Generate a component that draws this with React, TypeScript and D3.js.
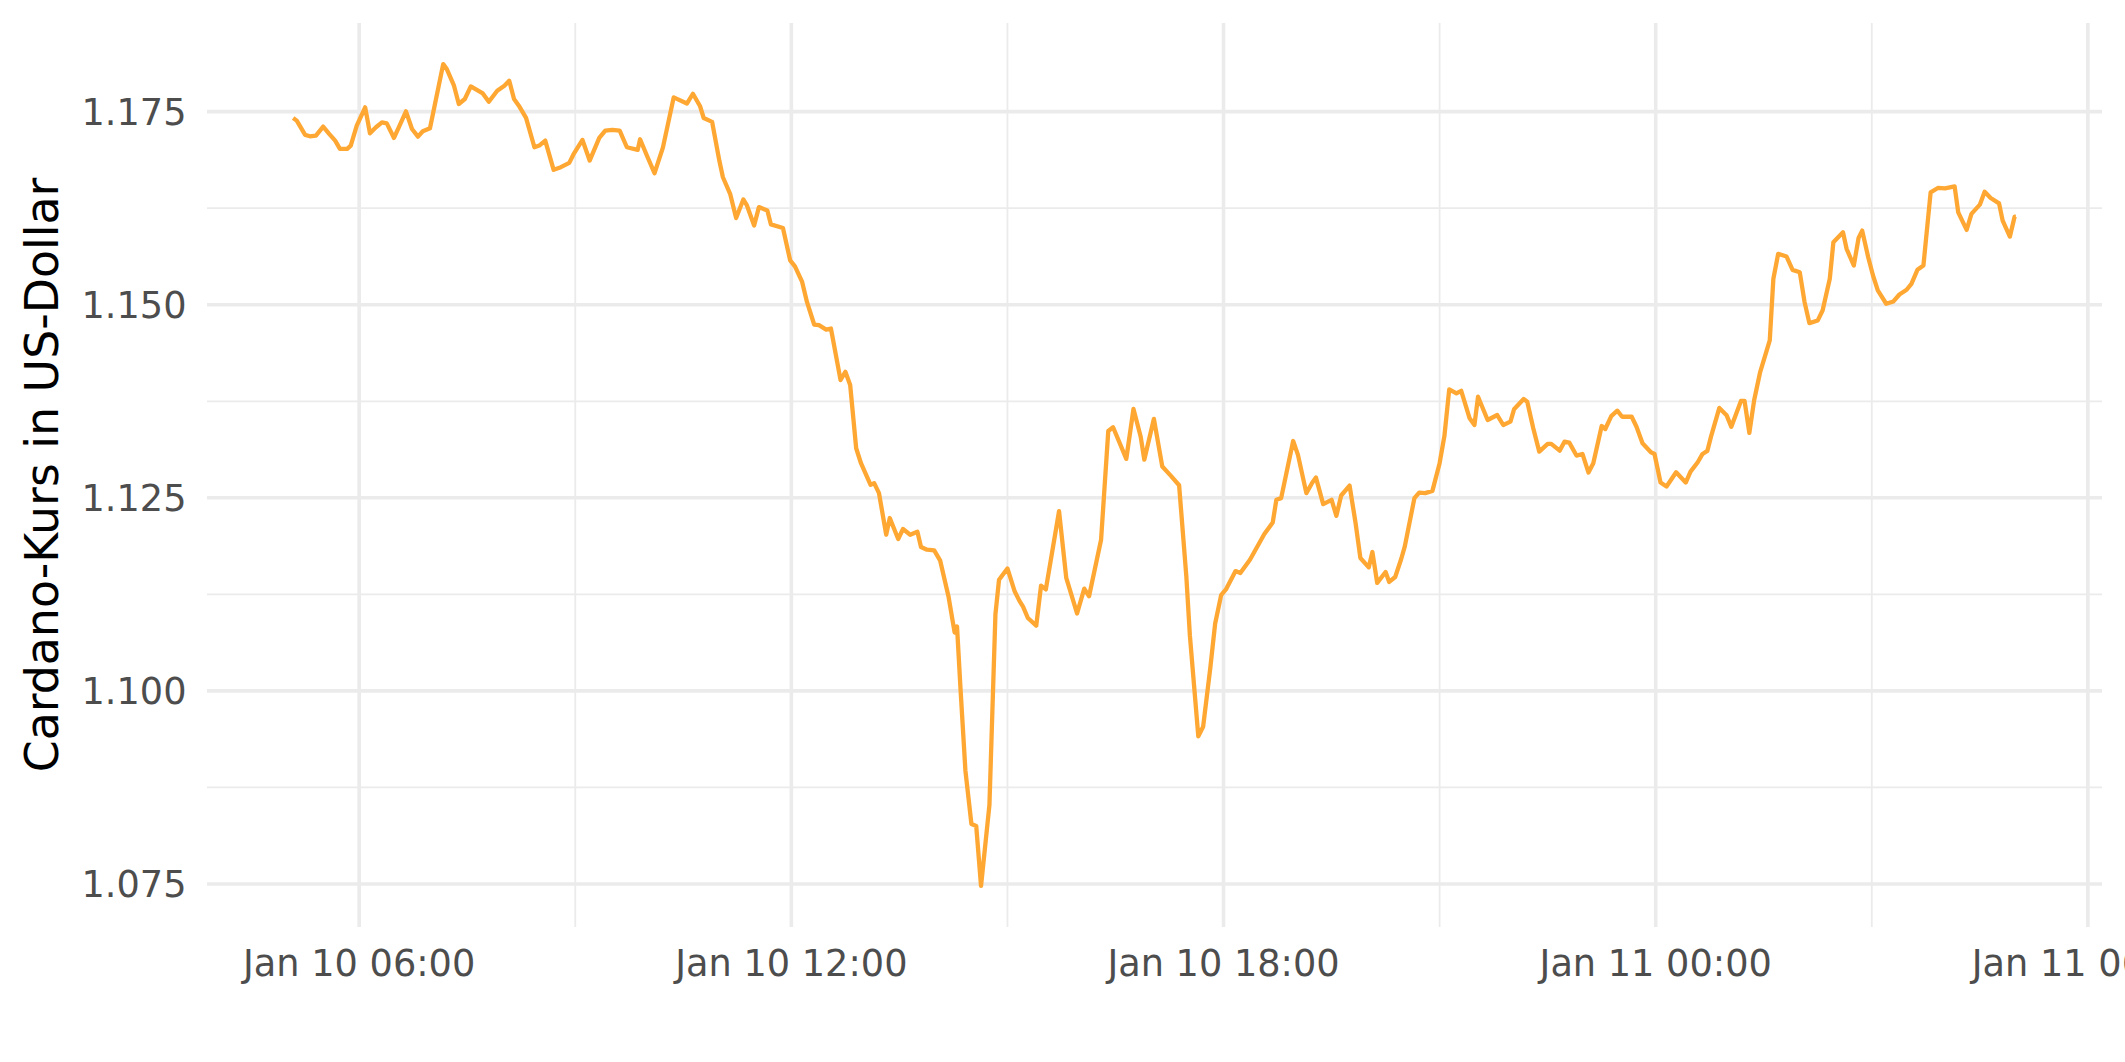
import React from "react";
import * as d3 from "d3";

// ---- Data ----
const times: string[] = [
  "2022-01-10T05:05","2022-01-10T05:08","2022-01-10T05:15","2022-01-10T05:19","2022-01-10T05:24","2022-01-10T05:30","2022-01-10T05:35","2022-01-10T05:40","2022-01-10T05:44","2022-01-10T05:50",
  "2022-01-10T05:53","2022-01-10T05:58","2022-01-10T06:05","2022-01-10T06:09","2022-01-10T06:14","2022-01-10T06:19","2022-01-10T06:23","2022-01-10T06:29","2022-01-10T06:33","2022-01-10T06:39",
  "2022-01-10T06:44","2022-01-10T06:49","2022-01-10T06:53","2022-01-10T06:59","2022-01-10T07:10","2022-01-10T07:13","2022-01-10T07:19","2022-01-10T07:23","2022-01-10T07:28","2022-01-10T07:33",
  "2022-01-10T07:43","2022-01-10T07:48","2022-01-10T07:55","2022-01-10T08:01","2022-01-10T08:05","2022-01-10T08:09","2022-01-10T08:13","2022-01-10T08:19","2022-01-10T08:26","2022-01-10T08:30",
  "2022-01-10T08:35","2022-01-10T08:42","2022-01-10T08:48","2022-01-10T08:55","2022-01-10T08:59","2022-01-10T09:06","2022-01-10T09:12","2022-01-10T09:20","2022-01-10T09:25","2022-01-10T09:31",
  "2022-01-10T09:37","2022-01-10T09:43","2022-01-10T09:52","2022-01-10T09:54","2022-01-10T10:00","2022-01-10T10:06","2022-01-10T10:13","2022-01-10T10:22","2022-01-10T10:33","2022-01-10T10:38",
  "2022-01-10T10:44","2022-01-10T10:47","2022-01-10T10:54","2022-01-10T11:00","2022-01-10T11:03","2022-01-10T11:09","2022-01-10T11:14","2022-01-10T11:20","2022-01-10T11:23","2022-01-10T11:29",
  "2022-01-10T11:33","2022-01-10T11:40","2022-01-10T11:43","2022-01-10T11:53","2022-01-10T11:59","2022-01-10T12:03","2022-01-10T12:09","2022-01-10T12:13","2022-01-10T12:19","2022-01-10T12:23",
  "2022-01-10T12:29","2022-01-10T12:33","2022-01-10T12:41","2022-01-10T12:45","2022-01-10T12:49","2022-01-10T12:54","2022-01-10T12:58","2022-01-10T13:06","2022-01-10T13:09","2022-01-10T13:13",
  "2022-01-10T13:19","2022-01-10T13:22","2022-01-10T13:29","2022-01-10T13:33","2022-01-10T13:39","2022-01-10T13:45","2022-01-10T13:48","2022-01-10T13:53","2022-01-10T13:59","2022-01-10T14:04",
  "2022-01-10T14:11","2022-01-10T14:16","2022-01-10T14:18","2022-01-10T14:21","2022-01-10T14:25","2022-01-10T14:30","2022-01-10T14:34","2022-01-10T14:38","2022-01-10T14:45","2022-01-10T14:50",
  "2022-01-10T14:53","2022-01-10T15:00","2022-01-10T15:06","2022-01-10T15:10","2022-01-10T15:13","2022-01-10T15:17","2022-01-10T15:24","2022-01-10T15:28","2022-01-10T15:32","2022-01-10T15:43",
  "2022-01-10T15:49","2022-01-10T15:58","2022-01-10T16:04","2022-01-10T16:08","2022-01-10T16:18","2022-01-10T16:24","2022-01-10T16:28","2022-01-10T16:39","2022-01-10T16:45","2022-01-10T16:51",
  "2022-01-10T16:54","2022-01-10T17:02","2022-01-10T17:09","2022-01-10T17:16","2022-01-10T17:23","2022-01-10T17:29","2022-01-10T17:32","2022-01-10T17:39","2022-01-10T17:43","2022-01-10T17:49",
  "2022-01-10T17:53","2022-01-10T17:58","2022-01-10T18:02","2022-01-10T18:10","2022-01-10T18:14","2022-01-10T18:22","2022-01-10T18:29","2022-01-10T18:34","2022-01-10T18:41","2022-01-10T18:44",
  "2022-01-10T18:48","2022-01-10T18:58","2022-01-10T19:02","2022-01-10T19:09","2022-01-10T19:14","2022-01-10T19:17","2022-01-10T19:23","2022-01-10T19:30","2022-01-10T19:34","2022-01-10T19:38",
  "2022-01-10T19:45","2022-01-10T19:50","2022-01-10T19:54","2022-01-10T20:01","2022-01-10T20:04","2022-01-10T20:08","2022-01-10T20:15","2022-01-10T20:18","2022-01-10T20:23","2022-01-10T20:28",
  "2022-01-10T20:31","2022-01-10T20:39","2022-01-10T20:43","2022-01-10T20:48","2022-01-10T20:54","2022-01-10T21:00","2022-01-10T21:04","2022-01-10T21:08","2022-01-10T21:14","2022-01-10T21:18",
  "2022-01-10T21:25","2022-01-10T21:29","2022-01-10T21:32","2022-01-10T21:40","2022-01-10T21:48","2022-01-10T21:53","2022-01-10T21:59","2022-01-10T22:02","2022-01-10T22:10","2022-01-10T22:13",
  "2022-01-10T22:18","2022-01-10T22:23","2022-01-10T22:30","2022-01-10T22:33","2022-01-10T22:40","2022-01-10T22:44","2022-01-10T22:48","2022-01-10T22:54","2022-01-10T22:59","2022-01-10T23:04",
  "2022-01-10T23:08","2022-01-10T23:15","2022-01-10T23:18","2022-01-10T23:23","2022-01-10T23:28","2022-01-10T23:32","2022-01-10T23:40","2022-01-10T23:44","2022-01-10T23:49","2022-01-10T23:56",
  "2022-01-10T23:59","2022-01-11T00:04","2022-01-11T00:09","2022-01-11T00:17","2022-01-11T00:25","2022-01-11T00:29","2022-01-11T00:35","2022-01-11T00:39","2022-01-11T00:43","2022-01-11T00:46",
  "2022-01-11T00:53","2022-01-11T00:59","2022-01-11T01:03","2022-01-11T01:11","2022-01-11T01:14","2022-01-11T01:18","2022-01-11T01:22","2022-01-11T01:27","2022-01-11T01:35","2022-01-11T01:38",
  "2022-01-11T01:42","2022-01-11T01:49","2022-01-11T01:54","2022-01-11T02:00","2022-01-11T02:04","2022-01-11T02:08","2022-01-11T02:15","2022-01-11T02:19","2022-01-11T02:25","2022-01-11T02:28",
  "2022-01-11T02:36","2022-01-11T02:39","2022-01-11T02:45","2022-01-11T02:49","2022-01-11T02:52","2022-01-11T02:57","2022-01-11T03:01","2022-01-11T03:05","2022-01-11T03:12","2022-01-11T03:18",
  "2022-01-11T03:23","2022-01-11T03:29","2022-01-11T03:33","2022-01-11T03:38","2022-01-11T03:43","2022-01-11T03:49","2022-01-11T03:55","2022-01-11T04:01","2022-01-11T04:09","2022-01-11T04:12",
  "2022-01-11T04:19","2022-01-11T04:23","2022-01-11T04:30","2022-01-11T04:34","2022-01-11T04:39","2022-01-11T04:46","2022-01-11T04:49","2022-01-11T04:55","2022-01-11T04:59","2022-01-11T05:00",
];

const prices: number[] = [
  1.17419,1.17384,1.17199,1.17181,1.17190,1.17306,1.17212,1.17125,1.17018,1.17018,
  1.17061,1.17319,1.17556,1.17220,1.17298,1.17362,1.17349,1.17160,1.17298,1.17504,
  1.17276,1.17177,1.17246,1.17285,1.18116,1.18052,1.17836,1.17599,1.17664,1.17827,
  1.17736,1.17629,1.17771,1.17836,1.17901,1.17664,1.17578,1.17419,1.17039,1.17061,
  1.17125,1.16747,1.16781,1.16837,1.16961,1.17134,1.16867,1.17160,1.17255,1.17263,
  1.17255,1.17039,1.17005,1.17143,1.16919,1.16703,1.17035,1.17685,1.17605,1.17732,
  1.17570,1.17418,1.17368,1.16867,1.16651,1.16436,1.16122,1.16363,1.16286,1.16027,
  1.16264,1.16221,1.16040,1.15993,1.15575,1.15497,1.15295,1.15036,1.14744,1.14735,
  1.14679,1.14692,1.14025,1.14132,1.13960,1.13142,1.12948,1.12668,1.12690,1.12561,
  1.12022,1.12238,1.11967,1.12096,1.12022,1.12061,1.11863,1.11828,1.11819,1.11686,
  1.11215,1.10756,1.10835,1.10005,1.08967,1.08276,1.08251,1.07475,1.08523,1.10993,
  1.11438,1.11586,1.11290,1.11166,1.11092,1.10944,1.10845,1.11364,1.11314,1.12327,
  1.11462,1.11003,1.11324,1.11225,1.11957,1.13365,1.13414,1.13004,1.13651,1.13291,
  1.12994,1.13523,1.12905,1.12787,1.12663,1.11487,1.10712,1.09412,1.09536,1.10301,
  1.10870,1.11240,1.11314,1.11551,1.11527,1.11699,1.11893,1.12031,1.12181,1.12474,
  1.12496,1.13236,1.13056,1.12561,1.12698,1.12762,1.12418,1.12474,1.12267,1.12530,
  1.12659,1.12173,1.11721,1.11600,1.11798,1.11398,1.11540,1.11411,1.11475,1.11708,
  1.11871,1.12496,1.12568,1.12561,1.12590,1.12948,1.13301,1.13904,1.13852,1.13886,
  1.13530,1.13443,1.13809,1.13508,1.13572,1.13443,1.13486,1.13646,1.13779,1.13744,
  1.13400,1.13098,1.13198,1.13198,1.13111,1.13227,1.13215,1.13047,1.13068,1.12827,
  1.12948,1.13430,1.13391,1.13559,1.13628,1.13550,1.13550,1.13421,1.13206,1.13090,
  1.13068,1.12698,1.12646,1.12832,1.12698,1.12840,1.12961,1.13068,1.13107,1.13289,
  1.13664,1.13570,1.13419,1.13755,1.13755,1.13341,1.13764,1.14129,1.14539,1.15336,
  1.15659,1.15624,1.15452,1.15421,1.15034,1.14762,1.14797,1.14926,1.15336,1.15809,
  1.15938,1.15724,1.15508,1.15866,1.15960,1.15615,1.15379,1.15185,1.15013,1.15043,
  1.15133,1.15194,1.15271,1.15452,1.15508,1.16455,1.16512,1.16508,1.16532,1.16196,
  1.15969,1.16176,1.16296,1.16464,1.16382,1.16313,1.16089,1.15882,1.16141,1.16141,
];

const yMajorTicks: number[] = [1.075, 1.1, 1.125, 1.15, 1.175];
const yMinorTicks: number[] = [1.0875, 1.1125, 1.1375, 1.1625];
const yTickLabels: string[] = ["1.075", "1.100", "1.125", "1.150", "1.175"];

const xMajorTimes: string[] = ["2022-01-10T06:00", "2022-01-10T12:00", "2022-01-10T18:00", "2022-01-11T00:00", "2022-01-11T06:00"];
const xMinorTimes: string[] = ["2022-01-10T09:00", "2022-01-10T15:00", "2022-01-10T21:00", "2022-01-11T03:00"];
const xTickLabels: string[] = ["Jan 10 06:00", "Jan 10 12:00", "Jan 10 18:00", "Jan 11 00:00", "Jan 11 06:00"];

const yTitle = "Cardano-Kurs in US-Dollar";

// ---- Layout ----
const W = 2125;
const H = 1062;
const P = { left: 207, right: 2102, top: 23, bottom: 927 };
const FONT = "'DejaVu Sans', Verdana, sans-serif";
const GRID = "#EBEBEB";
const LINE = "#FFA733";

export default function App() {
  const parsed = times.map((t) => new Date(t));
  const data = parsed.map((d, i) => ({ t: d, v: prices[i] }));

  const [t0, t1] = d3.extent(parsed) as [Date, Date];
  const span = t1.getTime() - t0.getTime();
  const x = d3
    .scaleTime()
    .domain([new Date(t0.getTime() - 0.05 * span), new Date(t1.getTime() + 0.05 * span)])
    .range([P.left, P.right]);

  const [v0, v1] = d3.extent(prices) as [number, number];
  const vs = v1 - v0;
  const y = d3
    .scaleLinear()
    .domain([v0 - 0.05 * vs, v1 + 0.05 * vs])
    .range([P.bottom, P.top]);

  const line = d3
    .line<{ t: Date; v: number }>()
    .x((d) => x(d.t))
    .y((d) => y(d.v));

  return (
    <div style={{ width: W, height: H, overflow: "hidden", background: "#fff" }}>
      <style>{"html,body{margin:0;padding:0;overflow:hidden;background:#fff}"}</style>
      <svg width={W} height={H} viewBox={`0 0 ${W} ${H}`} style={{ display: "block" }}>
        <rect x={0} y={0} width={W} height={H} fill="#fff" />
        {yMinorTicks.map((v) => (
          <line key={"ym" + v} x1={P.left} x2={P.right} y1={y(v)} y2={y(v)} stroke={GRID} strokeWidth={1.8} />
        ))}
        {xMinorTimes.map((t) => (
          <line key={"xm" + t} x1={x(new Date(t))} x2={x(new Date(t))} y1={P.top} y2={P.bottom} stroke={GRID} strokeWidth={1.8} />
        ))}
        {yMajorTicks.map((v) => (
          <line key={"yM" + v} x1={P.left} x2={P.right} y1={y(v)} y2={y(v)} stroke={GRID} strokeWidth={3.6} />
        ))}
        {xMajorTimes.map((t) => (
          <line key={"xM" + t} x1={x(new Date(t))} x2={x(new Date(t))} y1={P.top} y2={P.bottom} stroke={GRID} strokeWidth={3.6} />
        ))}
        <path d={line(data) || ""} fill="none" stroke={LINE} strokeWidth={4.3} strokeLinejoin="round" strokeLinecap="butt" />
        {yMajorTicks.map((v, i) => (
          <text key={"yl" + v} x={186.5} y={y(v)} dy="0.36em" textAnchor="end" fontFamily={FONT} fontSize={36.7} fill="#4D4D4D">
            {yTickLabels[i]}
          </text>
        ))}
        {xMajorTimes.map((t, i) => (
          <text key={"xl" + t} x={x(new Date(t))} y={976} textAnchor="middle" fontFamily={FONT} fontSize={36.7} fill="#4D4D4D">
            {xTickLabels[i]}
          </text>
        ))}
        <text transform={`translate(58, ${(P.top + P.bottom) / 2}) rotate(-90)`} textAnchor="middle" fontFamily={FONT} fontSize={45.8} fill="#000">
          {yTitle}
        </text>
      </svg>
    </div>
  );
}
